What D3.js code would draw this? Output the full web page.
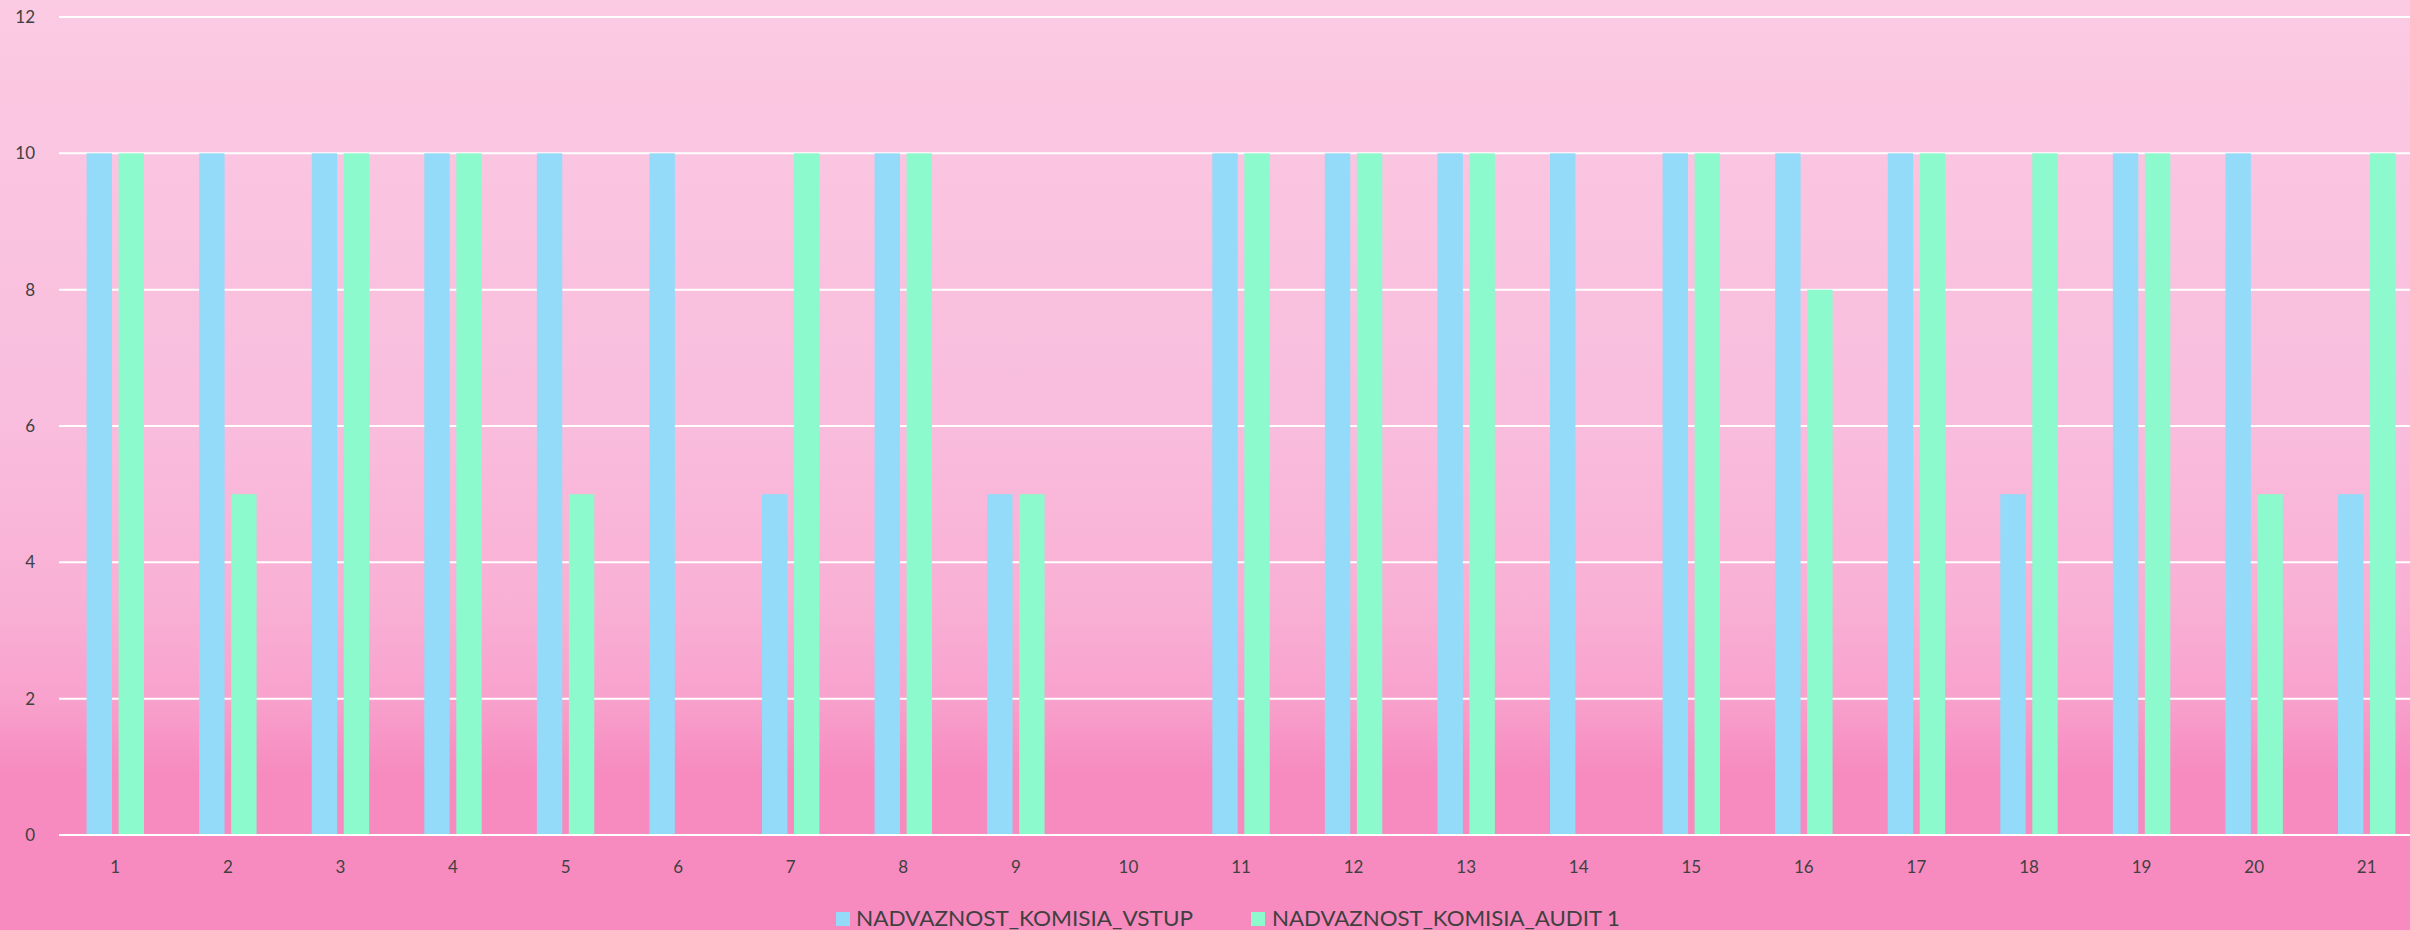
<!DOCTYPE html>
<html>
<head>
<meta charset="utf-8">
<script src="https://cdn.jsdelivr.net/npm/d3@7"></script>
<style>
  html, body { margin: 0; padding: 0; overflow: hidden; }
  svg { display: block; }
</style>
</head>
<body>
<svg id="chart" width="2410" height="930"></svg>
<script>
const categories = ["1","2","3","4","5","6","7","8","9","10","11","12","13","14","15","16","17","18","19","20","21"];
const seriesNames = ["NADVAZNOST_KOMISIA_VSTUP", "NADVAZNOST_KOMISIA_AUDIT 1"];
const vstup = [10,10,10,10,10,10,5,10,5,0,10,10,10,10,10,10,10,5,10,10,5];
const audit = [10,5,10,10,5,0,10,10,5,0,10,10,10,0,10,8,10,10,10,5,10];
const yTicks = [0,2,4,6,8,10,12];
const colors = ["#94daf9", "#8cfacc"];

(function () {
const W = 2410, H = 930;
const plotL = 59, plotR = 2423, plotT = 17, plotB = 835;
const svg = d3.select("#chart");

const defs = svg.append("defs");
const grad = defs.append("linearGradient").attr("id", "bg").attr("x1", 0).attr("y1", 0).attr("x2", 0).attr("y2", 1);
[[0, "#fbcae3"], [0.45, "#f9bddd"], [0.65, "#f9b0d5"], [0.75, "#f8a2cd"], [0.83, "#f78bc0"], [1, "#f78bbf"]]
  .forEach(([o, c]) => grad.append("stop").attr("offset", o).attr("stop-color", c));
svg.append("rect").attr("width", W).attr("height", H).attr("fill", "url(#bg)");

const x0 = d3.scaleBand().domain(categories).range([plotL, plotR]).paddingInner(0.49).paddingOuter(0.245);
const x1 = d3.scaleBand().domain([0, 1]).range([0, x0.bandwidth()]).paddingInner(0.206).paddingOuter(0);
const y = d3.scaleLinear().domain([0, 12]).range([plotB, plotT]);

// gridlines
svg.append("g").selectAll("line").data(yTicks).join("line")
  .attr("x1", plotL).attr("x2", W)
  .attr("y1", d => y(d)).attr("y2", d => y(d))
  .attr("stroke", "#ffffff").attr("stroke-width", 2);

// y labels
svg.append("g").selectAll("text").data(yTicks).join("text")
  .attr("x", 35).attr("y", d => y(d)).attr("dy", "0.35em")
  .attr("text-anchor", "end")
  .attr("font-family", "Lato, 'Open Sans', sans-serif").attr("font-size", 17)
  .attr("fill", "#404040").text(d => d);

// bars
const series = [vstup, audit];
const g = svg.append("g");
series.forEach((vals, si) => {
  g.append("g").selectAll("rect").data(vals).join("rect")
    .attr("x", (d, i) => x0(categories[i]) + x1(si))
    .attr("width", x1.bandwidth())
    .attr("y", d => y(d))
    .attr("height", d => y(0) - y(d))
    .attr("fill", colors[si]);
});

// baseline on top
svg.append("line").attr("x1", plotL).attr("x2", W).attr("y1", y(0)).attr("y2", y(0))
  .attr("stroke", "#ffffff").attr("stroke-width", 2);

// x labels
svg.append("g").selectAll("text").data(categories).join("text")
  .attr("x", d => x0(d) + x0.bandwidth() / 2).attr("y", 867).attr("dy", "0.35em")
  .attr("text-anchor", "middle")
  .attr("font-family", "Lato, 'Open Sans', sans-serif").attr("font-size", 17)
  .attr("fill", "#404040").text(d => d);

// legend
const legendItems = [
  { name: seriesNames[0], color: colors[0], sx: 836, tx: 856, tw: 337 },
  { name: seriesNames[1], color: colors[1], sx: 1251, tx: 1272, tw: 348 }
];
const lg = svg.append("g");
legendItems.forEach(it => {
  lg.append("rect").attr("x", it.sx).attr("y", 912).attr("width", 14).attr("height", 14).attr("fill", it.color);
  lg.append("text").attr("x", it.tx).attr("y", 926)
    .attr("font-family", "Lato, 'Open Sans', sans-serif").attr("font-size", 21)
    .attr("textLength", it.tw).attr("lengthAdjust", "spacingAndGlyphs")
    .attr("fill", "#404040").text(it.name);
});
})();
</script>
</body>
</html>
